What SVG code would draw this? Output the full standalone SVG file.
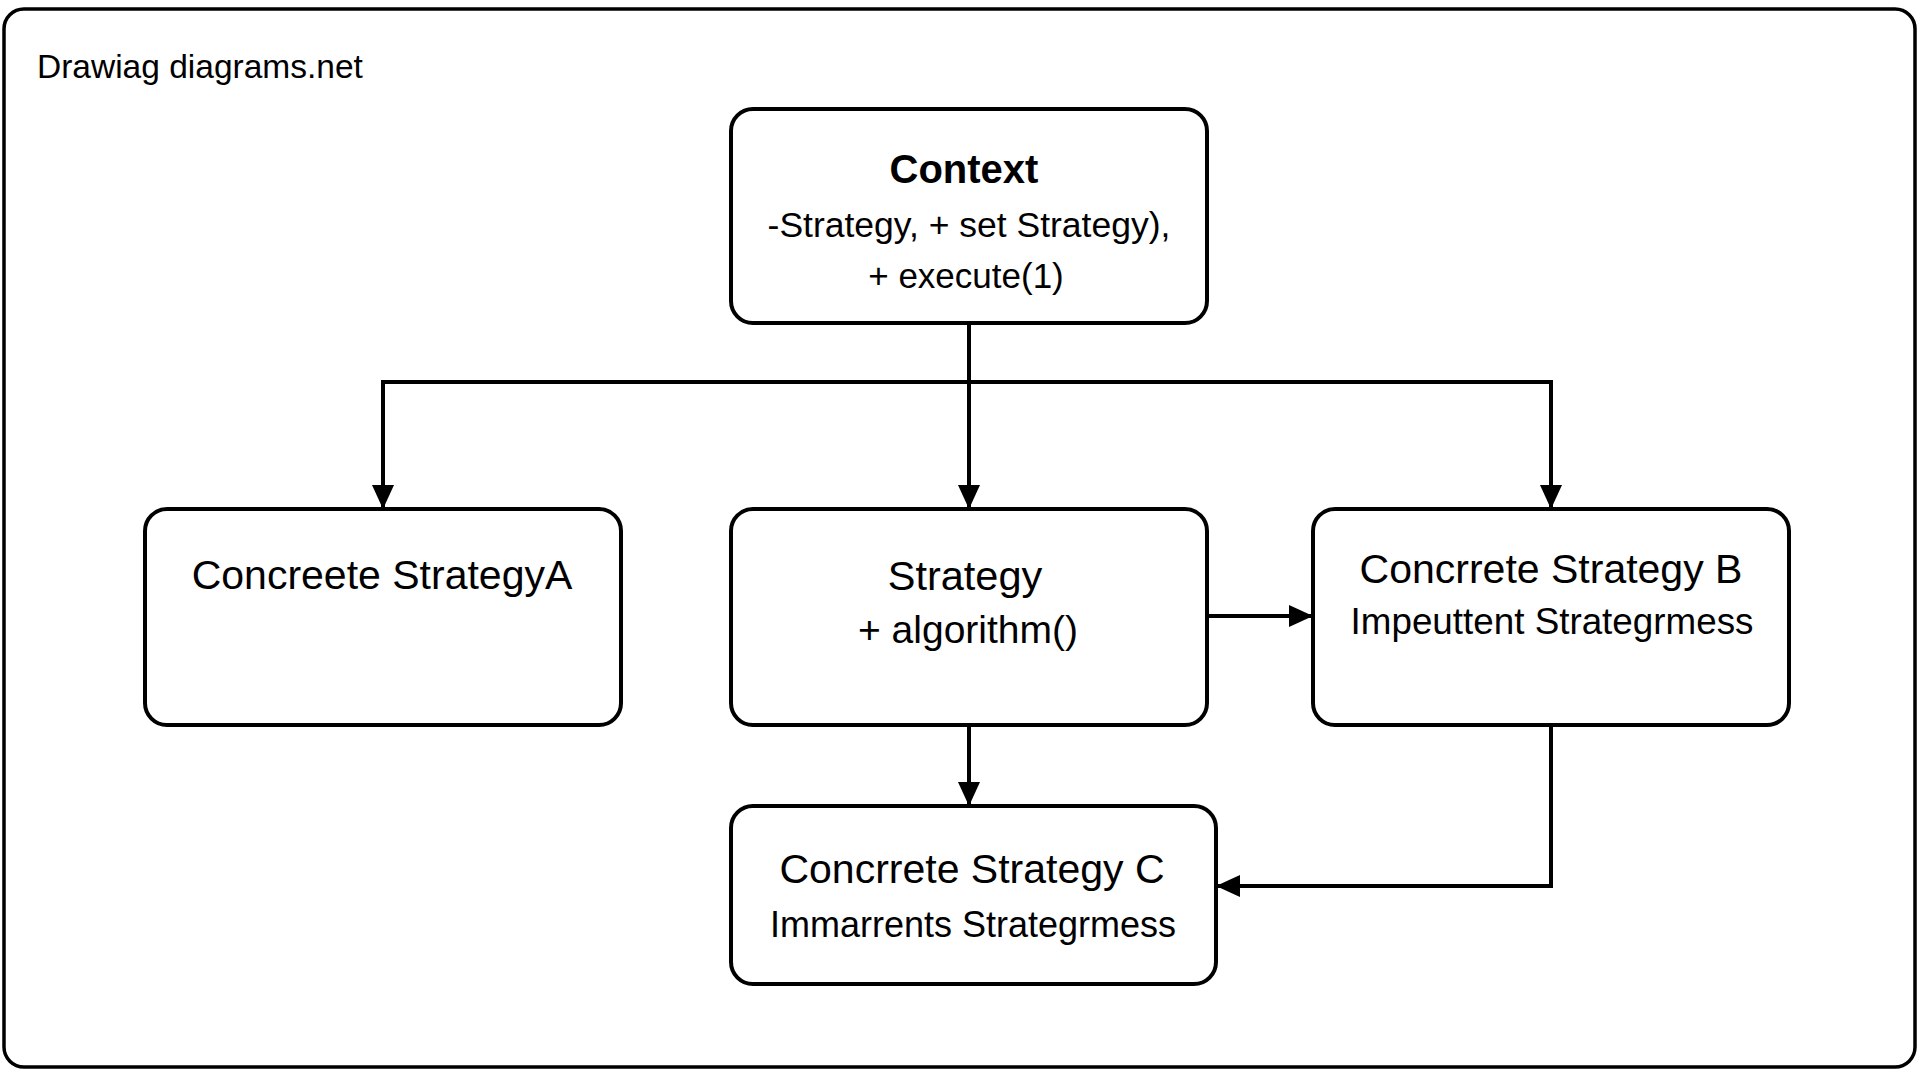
<svg xmlns="http://www.w3.org/2000/svg" width="1920" height="1080" viewBox="0 0 1920 1080">
  <style>
    .box { fill: #ffffff; stroke: #000000; stroke-width: 4; }
    .t { font-family: "Liberation Sans", Arial, sans-serif; fill: #000000; text-anchor: middle; }
    .conn { fill: none; stroke: #000000; stroke-width: 4; stroke-linejoin: miter; }
  </style>
  <defs>
    <marker id="arrow" viewBox="0 0 24 22" refX="24" refY="11" markerWidth="24" markerHeight="22" markerUnits="userSpaceOnUse" orient="auto">
      <path d="M0,0 L24,11 L0,22 Z" fill="#000000"/>
    </marker>
  </defs>
  <rect x="0" y="0" width="1920" height="1080" fill="#ffffff"/>
  <rect id="frame" x="4" y="9" width="1911" height="1058" rx="20" ry="20" fill="none" stroke="#000000" stroke-width="3.5"/>
  <text x="37" y="78" font-family="'Liberation Sans', Arial, sans-serif" font-size="33.5" fill="#000000">Drawiag diagrams.net</text>

  <g id="connectors">
    <path class="conn" d="M969,323 L969,509" marker-end="url(#arrow)"/>
    <path class="conn" d="M969,382 L383,382 L383,509" marker-end="url(#arrow)"/>
    <path class="conn" d="M969,382 L1551,382 L1551,509" marker-end="url(#arrow)"/>
    <path class="conn" d="M1207,616 L1313,616" marker-end="url(#arrow)"/>
    <path class="conn" d="M969,725 L969,806" marker-end="url(#arrow)"/>
    <path class="conn" d="M1551,725 L1551,886 L1216,886" marker-end="url(#arrow)"/>
  </g>

  <g id="context">
    <rect class="box" x="731" y="109" width="476" height="214" rx="22" ry="22"/>
    <text class="t" x="964" y="183" font-size="40" font-weight="bold">Context</text>
    <text class="t" x="969" y="237" font-size="35.5">-Strategy, + set Strategy),</text>
    <text class="t" x="966" y="288" font-size="35">+ execute(1)</text>
  </g>

  <g id="strategyA">
    <rect class="box" x="145" y="509" width="476" height="216" rx="22" ry="22"/>
    <text class="t" x="382" y="589" font-size="41">Concreete StrategyA</text>
  </g>

  <g id="strategy">
    <rect class="box" x="731" y="509" width="476" height="216" rx="22" ry="22"/>
    <text class="t" x="965" y="590" font-size="41.5">Strategy</text>
    <text class="t" x="968" y="643" font-size="39">+ algorithm()</text>
  </g>

  <g id="strategyB">
    <rect class="box" x="1313" y="509" width="476" height="216" rx="22" ry="22"/>
    <text class="t" x="1551" y="583" font-size="41">Concrrete Strategy B</text>
    <text class="t" x="1552" y="634" font-size="36.8">Impeuttent Strategrmess</text>
  </g>

  <g id="strategyC">
    <rect class="box" x="731" y="806" width="485" height="178" rx="22" ry="22"/>
    <text class="t" x="972" y="883" font-size="41">Concrrete Strategy C</text>
    <text class="t" x="973" y="937" font-size="36">Immarrents Strategrmess</text>
  </g>
</svg>
